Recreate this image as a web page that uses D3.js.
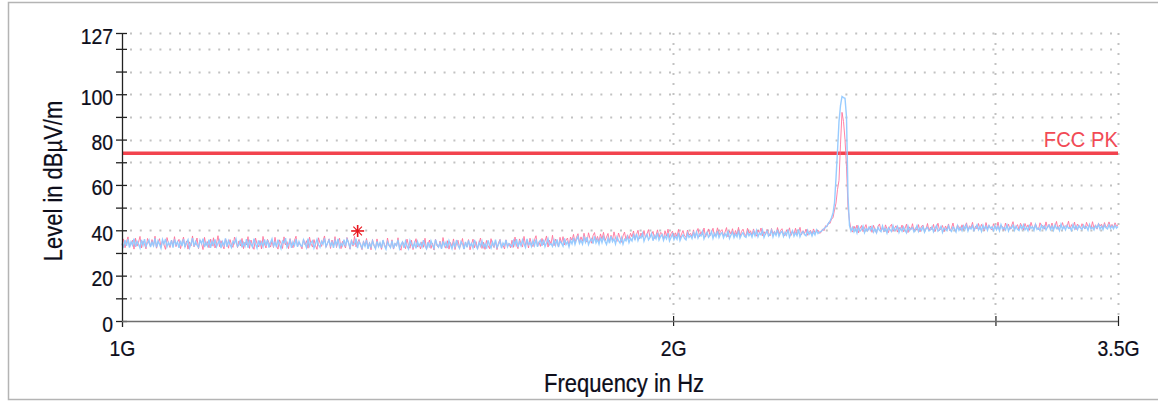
<!DOCTYPE html>
<html><head><meta charset="utf-8">
<script src="https://cdn.jsdelivr.net/npm/d3@7"></script>
<style>body{margin:0;background:#fff}svg{display:block}text{font-family:"Liberation Sans",Arial,sans-serif}</style>
</head><body><svg id="c" width="1158" height="403"></svg>
<script>
// ---- data ----
const startHz = 1e9, stopHz = 3.5e9;           // sweep range
const yTicks = [0,10,20,30,40,50,60,70,80,90,100,110,120,127];
const yLabels = [0,20,40,60,80,100,127];
const xTicks = [1e9, 2e9, 3e9, 3.5e9];
const xTickLabels = ["1G", "2G", "", "3.5G"];
const limitLevel = 74, limitName = "FCC PK";
const markerFreq = 1.345e9, markerLevel = 39.7;
const xTitle = "Frequency in Hz", yTitle = "Level in dBµV/m";

// blue trace (levels in dBµV/m, one per sweep point)
const traceBlue = [
34.2,32.8,35.6,33.1,36.0,32.4,34.9,33.5,36.3,32.7,35.1,33.9,32.2,35.8,33.4,36.1,32.9,34.5,35.7,32.6,
34.8,33.2,36.4,32.5,35.3,33.8,32.1,35.9,34.0,36.2,32.8,34.6,33.3,35.5,32.4,36.0,33.6,34.9,32.3,35.4,
33.0,36.1,32.7,34.4,35.8,32.2,33.9,36.5,32.9,35.0,33.4,32.5,35.7,34.1,36.3,32.6,34.7,33.1,35.9,32.3,
35.2,33.6,36.0,32.8,34.3,35.6,32.1,34.9,33.3,36.4,32.7,35.4,33.8,32.4,35.1,34.2,36.2,32.9,33.7,35.8,
32.5,34.6,33.0,36.1,32.3,35.3,33.9,32.6,36.3,34.0,32.2,35.5,33.4,34.8,32.8,36.0,33.2,35.7,32.4,34.5,
36.2,33.1,34.7,32.5,35.9,33.7,32.0,35.2,34.4,36.5,32.6,33.8,35.6,32.3,34.9,33.3,36.1,32.7,35.0,33.5,
32.9,35.8,34.1,32.4,36.3,33.0,34.6,35.4,32.2,34.0,36.0,33.6,32.5,35.1,33.9,36.4,32.8,34.3,35.7,33.2,
34.8,32.3,35.5,33.4,36.2,32.6,34.2,33.1,35.9,32.9,36.1,34.5,32.4,35.3,33.7,34.0,36.3,32.1,35.0,33.8,
32.1,34.7,33.0,35.6,31.8,34.2,32.6,35.3,33.4,31.9,35.1,32.8,34.5,32.2,35.7,33.2,31.7,34.9,33.6,32.4,
35.4,32.0,34.1,33.3,35.8,31.9,33.7,34.8,32.3,35.2,33.0,31.8,35.5,33.9,32.5,34.6,32.0,35.0,33.1,34.3,
32.7,35.6,33.2,31.9,34.8,32.4,35.3,33.5,32.0,35.9,33.8,32.6,34.4,31.8,35.1,33.0,34.7,32.2,35.4,33.6,
31.9,34.5,32.8,35.7,33.3,32.1,35.0,33.9,31.7,34.9,32.5,35.5,33.1,34.2,32.3,35.8,33.4,32.0,34.6,33.0,
35.2,32.6,34.0,31.9,35.6,33.5,32.2,34.8,33.0,35.9,32.4,33.7,35.3,32.1,34.4,33.2,35.7,32.7,34.1,33.6,
32.8,35.4,33.5,36.1,32.6,34.9,33.2,35.8,34.0,32.5,36.2,33.7,34.6,32.9,35.5,33.3,36.0,32.7,34.8,35.6,
33.1,35.9,32.8,34.5,36.3,33.6,34.1,32.9,35.7,33.4,36.0,32.6,35.2,34.3,33.0,36.4,33.8,34.9,32.7,35.5,
34.0,36.6,33.8,35.9,37.2,34.2,35.6,33.9,36.8,34.7,37.0,33.7,35.4,36.3,34.1,37.3,34.5,36.0,33.9,36.9,
34.6,37.1,35.2,33.8,36.5,34.3,37.4,35.0,36.2,34.0,37.0,35.5,34.4,36.7,33.9,36.1,35.3,37.2,34.6,36.4,
35.3,37.9,36.0,38.4,35.5,37.3,36.6,38.6,35.2,37.0,38.2,35.8,36.9,38.5,35.4,37.6,36.3,38.8,35.7,37.2,
38.1,35.6,37.5,36.2,38.7,35.3,36.8,38.3,35.9,37.4,36.1,38.9,35.5,37.1,38.0,36.4,35.8,38.6,36.9,37.7,
36.4,38.9,37.0,39.3,36.6,38.2,37.5,39.5,36.3,38.0,39.1,36.9,37.8,39.4,36.5,38.6,37.2,39.6,36.8,38.3,
39.0,36.7,38.5,37.3,39.7,36.4,37.9,39.2,36.8,38.4,37.1,39.8,36.6,38.1,39.0,37.4,36.9,39.3,37.6,38.7,
37.0,39.5,37.6,39.9,37.2,38.8,38.0,40.1,36.9,38.6,39.7,37.5,38.3,40.0,37.1,39.2,37.8,40.2,37.4,38.9,
39.6,37.3,39.1,37.9,40.3,37.0,38.5,39.8,37.4,39.0,37.7,40.4,37.2,38.7,39.5,38.1,37.6,39.9,38.2,39.3,
37.5,39.4,38.0,40.1,38.6,39.2,39.5,40.0,40.8,41.2,42.0,43.0,44.0,45.5,47.5,52.0,63.0,75.0,88.0,95.0,
99.0,98.5,98.2,90.0,55.0,42.0,39.6,41.2,39.3,40.9,38.8,41.5,39.6,40.3,41.8,39.0,40.7,39.8,41.4,40.0,
41.6,39.2,40.6,38.9,41.3,40.0,39.4,41.9,39.7,40.8,38.8,41.1,40.3,39.5,42.0,39.9,40.5,41.7,39.1,40.9,
39.6,41.4,40.1,38.9,41.8,39.8,40.7,41.2,39.3,40.4,42.0,39.5,41.0,39.9,41.6,39.2,40.8,41.3,39.7,40.2,
41.5,39.4,40.9,42.1,39.6,40.3,41.7,39.1,41.0,40.5,39.8,41.9,40.2,39.5,41.4,40.7,39.3,42.0,40.0,41.2,
39.8,41.9,40.4,42.3,39.7,41.3,40.6,42.0,39.9,41.1,42.4,40.2,41.6,39.6,42.2,40.5,41.8,40.0,42.1,40.8,
41.5,39.9,42.0,40.3,41.7,39.8,42.5,40.6,41.2,40.1,42.3,39.7,41.4,40.9,42.2,40.0,41.8,40.4,39.9,42.0,
40.6,42.4,40.2,41.3,39.8,42.1,40.9,41.6,40.0,42.5,40.4,41.0,39.9,42.2,40.7,41.9,40.1,41.5,42.3,40.3,
41.8,40.0,42.3,40.8,41.4,39.9,42.6,40.5,41.7,40.2,42.1,40.9,41.2,40.0,42.4,40.6,41.9,40.3,42.0,41.1,
40.4,42.2,40.9,41.6,40.1,42.5,40.7,41.3,40.2,42.0,41.0,42.6,40.5,41.8,40.3,42.3,41.1,40.6,42.4,40.8,
41.9,40.6,42.2,41.0,41.7
];
// red trace
const traceRed = [
33.4,36.2,32.3,35.0,37.1,32.6,34.1,35.6,31.7,36.5,33.0,34.7,37.3,32.2,35.2,33.8,31.8,36.4,34.3,32.9,
35.9,33.0,37.4,32.1,34.6,36.3,32.5,35.5,33.6,31.6,36.8,34.2,32.4,35.7,33.2,37.2,32.8,34.8,36.0,31.9,
34.5,37.0,32.6,35.3,31.7,34.9,33.1,37.5,32.7,34.0,36.6,31.9,35.6,34.4,31.5,36.9,33.3,35.0,32.3,36.1,
33.0,36.7,32.2,34.3,37.6,32.8,35.4,33.4,31.8,36.2,34.6,32.1,35.9,33.6,32.5,37.0,35.1,32.4,35.3,33.1,
36.4,31.9,34.8,33.5,37.2,32.0,35.7,33.2,31.6,36.6,34.1,32.7,35.5,31.8,37.3,33.9,32.2,36.0,34.5,32.6,
35.2,32.4,36.9,33.1,31.7,35.8,34.3,32.0,37.1,33.5,35.0,31.9,36.3,33.8,32.3,35.6,37.4,32.8,34.7,33.3,
31.8,36.1,33.6,35.4,32.1,37.0,34.0,32.6,35.9,33.2,31.6,36.7,34.4,32.9,35.3,37.5,32.5,34.2,36.2,32.0,
35.7,33.3,37.2,32.4,34.9,36.5,31.9,35.1,33.7,32.2,36.8,34.6,31.7,35.8,33.0,37.3,32.7,34.5,36.0,33.4,
31.5,35.3,33.0,36.4,32.1,34.7,31.4,35.9,33.2,32.0,36.2,32.7,34.5,31.6,35.4,33.8,32.2,36.6,33.1,32.4,
35.8,31.7,34.2,33.0,36.7,32.3,31.2,35.0,33.6,31.9,36.1,33.4,32.1,35.6,31.5,34.0,36.3,32.6,33.9,31.8,
34.9,32.5,36.5,31.6,33.8,35.7,32.0,34.4,31.3,36.0,33.1,32.4,35.2,31.9,36.8,33.5,32.1,35.4,31.7,34.6,
32.8,36.2,31.5,34.1,35.6,32.2,33.7,36.4,31.8,34.8,32.6,35.9,31.4,33.9,36.1,32.3,35.0,31.7,34.3,36.6,
32.0,34.7,31.6,35.5,33.2,31.9,36.3,33.6,32.4,35.1,31.5,34.5,36.0,32.7,33.4,31.8,35.8,32.9,34.2,32.3,
35.6,32.5,37.0,33.3,31.9,36.2,34.1,32.6,37.3,33.5,35.4,32.2,36.5,33.9,32.8,35.9,37.6,33.0,34.7,32.9,
36.4,33.7,35.2,37.5,32.6,35.6,34.0,37.8,33.2,36.1,34.5,32.7,36.9,34.2,37.2,33.6,35.7,36.6,33.1,37.0,
35.6,38.2,34.6,36.9,38.5,34.4,37.1,35.2,38.7,35.9,34.8,38.9,36.4,34.3,37.6,39.0,35.5,37.3,35.0,38.4,
36.1,39.1,35.4,37.0,38.6,34.9,37.8,35.7,39.3,36.5,35.1,38.8,36.8,34.7,37.5,39.2,35.9,38.0,36.2,38.7,
37.1,39.7,35.9,38.2,40.0,36.3,38.8,37.0,39.9,36.6,38.4,40.3,36.9,38.1,39.5,36.4,37.8,40.2,36.7,39.0,
38.6,36.2,39.8,37.4,40.5,36.8,38.5,39.6,36.5,38.9,37.2,40.4,36.6,38.3,39.9,37.5,36.9,40.1,37.8,38.7,
37.3,40.2,36.7,39.1,40.8,37.2,39.4,37.9,41.0,37.0,38.8,40.6,37.6,39.0,40.9,37.4,38.5,41.1,37.8,39.6,
40.3,37.5,39.2,41.2,37.1,39.7,38.3,40.7,37.6,39.9,38.0,41.3,37.3,39.5,40.5,38.2,37.7,40.9,38.6,39.8,
37.8,40.6,38.3,37.4,40.1,38.7,41.0,37.6,39.4,38.0,40.4,38.9,37.5,40.8,38.4,39.6,37.9,41.2,38.1,39.9,
40.7,38.2,37.6,40.2,38.8,41.1,37.7,39.5,38.4,40.9,37.9,39.1,41.3,38.0,39.8,38.6,40.5,37.8,39.3,40.0,
38.3,40.6,38.9,39.5,40.1,38.7,39.0,40.6,39.8,42.0,41.5,43.4,43.0,45.0,45.5,49.0,52.0,58.0,62.0,78.0,
92.0,88.0,80.0,68.0,50.0,44.0,40.5,39.2,41.8,40.0,42.3,38.9,40.7,42.1,39.4,41.0,42.5,39.6,40.8,41.9,
39.1,42.2,40.4,38.8,41.6,42.8,39.9,41.0,39.3,42.4,40.6,39.0,41.7,42.6,39.5,40.9,42.0,39.2,41.3,40.1,
42.3,39.4,40.8,42.7,39.0,41.5,40.3,42.9,39.6,41.1,40.0,42.5,39.3,41.8,42.2,39.7,40.5,43.0,39.8,41.4,
40.2,42.6,39.5,41.2,43.1,39.9,40.7,42.1,39.4,41.9,40.4,42.8,39.7,41.0,43.2,40.1,39.6,42.3,41.5,40.0,
42.4,40.3,41.7,43.3,40.0,42.0,41.1,43.5,39.9,41.8,40.6,43.0,40.4,42.6,41.2,39.8,43.4,40.8,42.2,41.0,
40.1,42.9,41.3,40.5,43.6,40.2,42.3,41.6,40.0,43.2,41.0,42.7,40.4,41.9,43.8,40.6,41.4,42.5,40.3,43.1,
41.7,40.2,43.0,41.1,42.4,40.0,43.5,41.5,40.7,42.8,41.2,40.3,43.3,41.8,42.1,40.5,43.7,41.0,42.6,40.8,
43.2,40.6,41.9,43.9,40.4,42.3,41.4,43.4,40.9,42.0,41.6,44.0,40.7,42.5,41.1,43.6,40.3,42.7,41.8,40.9,
42.9,41.3,40.6,43.5,41.7,42.2,40.8,43.8,41.0,42.4,40.5,43.1,41.9,42.7,40.9,43.4,41.2,42.0,43.7,41.5,
42.6,41.1,43.3,41.8,42.4
];

// ---- layout ----
const L = 122, R = 1118, T = 33, B = 321;
const SX = 0.88; // horizontal text compression of the original rendering
const INK = "#0d0d1a";
const svg = d3.select("#c");

// sweep grid: log-spaced points between start and stop (one per trace sample)
const nPts = traceBlue.length;
const freqOf = i => startHz * Math.pow(stopHz / startHz, i / (nPts - 1));

const x = d3.scaleLog().domain([startHz, stopHz]).range([L, R]);
const y = d3.scaleLinear().domain([0, 127]).range([B, T]);

// outer frame
svg.append("rect").attr("x", 8.5).attr("y", 2.5).attr("width", 1160).attr("height", 397)
  .attr("fill", "none").attr("stroke", "#b4b4b4").attr("stroke-width", 1.5);

// grid
const grid = svg.append("g");
yTicks.filter(d => d > 0).forEach(d => {
  grid.append("line").attr("x1", L + 8).attr("x2", R).attr("y1", Math.round(y(d)) + 0.5).attr("y2", Math.round(y(d)) + 0.5)
    .attr("stroke", "#c2c2c2").attr("stroke-width", 2).attr("stroke-dasharray", "2,7.8");
});
xTicks.filter(d => d > startHz).forEach(d => {
  grid.append("line").attr("x1", Math.round(x(d)) + 0.5).attr("x2", Math.round(x(d)) + 0.5).attr("y1", T).attr("y2", B - 4)
    .attr("stroke", "#c2c2c2").attr("stroke-width", 2).attr("stroke-dasharray", "2,8");
});

// limit line
svg.append("line").attr("x1", L).attr("x2", R).attr("y1", y(limitLevel)).attr("y2", y(limitLevel))
  .attr("stroke", "#f2434e").attr("stroke-width", 3.6);
svg.append("text").attr("transform", `translate(${R},${y(limitLevel) - 6}) scale(0.92,1)`)
  .attr("text-anchor", "end").style("font-size", "22px").attr("fill", "#f24a55").text(limitName);

// traces
const line = d3.line().x((d, i) => x(freqOf(i))).y(d => y(d));
svg.append("path").datum(traceRed).attr("d", line).attr("fill", "none")
  .attr("stroke", "#ff6e98").attr("stroke-width", 1).attr("opacity", 0.85);
svg.append("path").datum(traceBlue).attr("d", line).attr("fill", "none")
  .attr("stroke", "#92c9ff").attr("stroke-width", 1.4).attr("opacity", 0.95);

// marker (asterisk)
const mx = x(markerFreq), my = y(markerLevel);
const mk = svg.append("g").attr("transform", `translate(${mx},${my})`).attr("stroke", "#e8141c");
mk.append("line").attr("x1", -6.5).attr("x2", 6.5).attr("stroke-width", 1.6);
mk.append("line").attr("y1", -6).attr("y2", 6).attr("stroke-width", 1.6);
mk.append("line").attr("x1", -4.3).attr("y1", -4.3).attr("x2", 4.3).attr("y2", 4.3).attr("stroke-width", 1.1);
mk.append("line").attr("x1", -4.3).attr("y1", 4.3).attr("x2", 4.3).attr("y2", -4.3).attr("stroke-width", 1.1);

// y axis
const yAxis = d3.axisLeft(y).tickValues(yTicks).tickSize(6).tickPadding(3)
  .tickFormat(d => yLabels.includes(d) ? String(d) : "");
const gy = svg.append("g").attr("transform", `translate(${L},0)`).call(yAxis);
gy.select(".domain").remove();
gy.selectAll(".tick line").attr("x1", -6).attr("x2", 5).attr("stroke", "#222").attr("stroke-width", 1.3);
gy.selectAll(".tick text").attr("x", null).attr("dy", null)
  .attr("transform", "translate(-9,10) scale(" + SX + ",1)")
  .style("font-size", "22px").attr("fill", INK).attr("stroke", INK).attr("stroke-width", 0.25).attr("font-family", null);
svg.append("line").attr("x1", L + 0.5).attr("x2", L + 0.5).attr("y1", T).attr("y2", B + 6)
  .attr("stroke", "#222").attr("stroke-width", 1.3);

// x axis
const xAxis = d3.axisBottom(x).tickValues(xTicks).tickSize(5)
  .tickFormat((d, i) => xTickLabels[i]);
const gx = svg.append("g").attr("transform", `translate(0,${B})`).call(xAxis);
gx.select(".domain").remove();
svg.append("line").attr("x1", L).attr("x2", R).attr("y1", B + 0.5).attr("y2", B + 0.5)
  .attr("stroke", "#6e6e6e").attr("stroke-width", 1.6);
gx.selectAll(".tick line").attr("y1", -5).attr("y2", 5).attr("stroke", "#222").attr("stroke-width", 1.2);
gx.selectAll(".tick").filter(d => d === startHz).select("line").remove();
gx.selectAll(".tick text").attr("y", null).attr("dy", null)
  .attr("transform", "translate(0,34.5) scale(" + SX + ",1)")
  .style("font-size", "22px").attr("fill", INK).attr("stroke", INK).attr("stroke-width", 0.25).attr("font-family", null);

// titles
svg.append("text").attr("transform", `translate(${(L + R) / 2 + 4},392) scale(${SX},1)`)
  .attr("text-anchor", "middle").style("font-size", "25px").attr("fill", INK)
  .attr("stroke", INK).attr("stroke-width", 0.25).text(xTitle);
svg.append("text").attr("transform", `translate(62,181) rotate(-90) scale(${SX},1)`)
  .attr("text-anchor", "middle").style("font-size", "25px").attr("fill", INK)
  .attr("stroke", INK).attr("stroke-width", 0.25).text(yTitle);
</script>
</body></html>
